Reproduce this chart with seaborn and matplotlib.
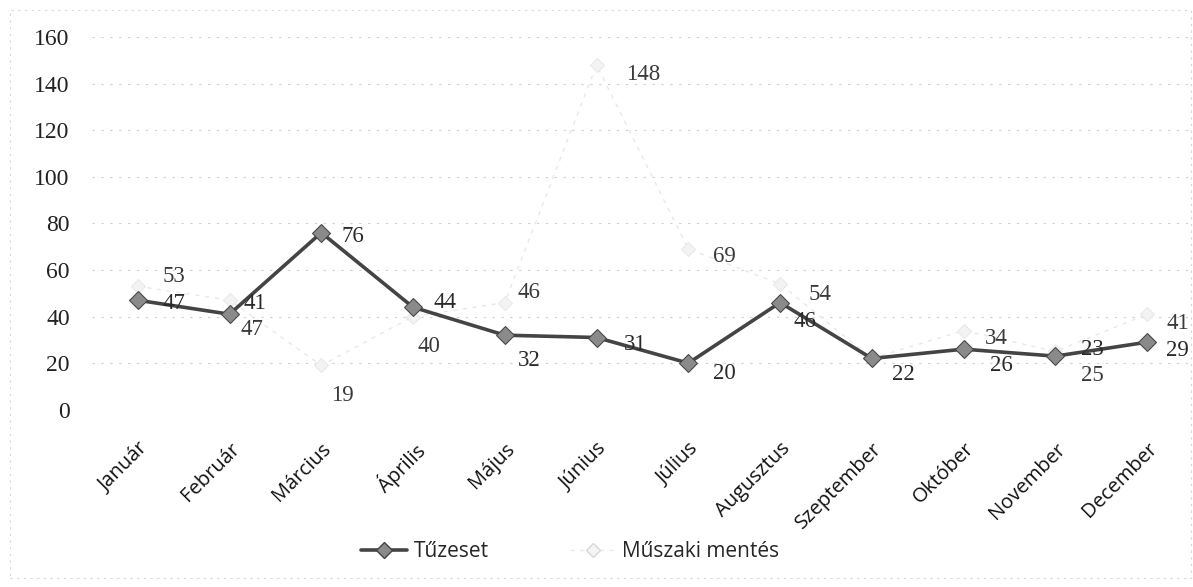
import matplotlib
matplotlib.use("Agg")
import matplotlib.pyplot as plt
from matplotlib.lines import Line2D
from matplotlib.patches import Rectangle
import seaborn as sns
import pandas as pd

# Monthly counts
months = ["Január", "Február", "Március", "Április", "Május", "Június",
          "Július", "Augusztus", "Szeptember", "Október", "November", "December"]
tuzeset = [47, 41, 76, 44, 32, 31, 20, 46, 22, 26, 23, 29]
muszaki = [53, 47, 19, 40, 46, 148, 69, 54, 22, 34, 25, 41]
series_names = ["Tűzeset", "Műszaki mentés"]
y_ticks = [0, 20, 40, 60, 80, 100, 120, 140, 160]

# Label nudges in pixels (right, down); None = shares the other series' label
tuz_nudge = [(25, 3), (14, -11), (20, 4), (20, -5), (13, 25), (27, 7),
             (25, 10), (13, 19), (20, 16), (26, 16), (26, -7), (19, 8)]
mus_nudge = [(25, -10), (11, 29), (10, 30), (4, 30), (13, -10), (29, 10),
             (25, 8), (28, 11), None, (21, 8), (26, 24), (19, 9)]

df = pd.DataFrame({
    "x": list(range(len(months))) * 2,
    "ertek": tuzeset + muszaki,
    "sorozat": [series_names[0]] * len(months) + [series_names[1]] * len(months),
})

sns.set_theme(style="white")
plt.rcParams["font.family"] = ["DejaVu Sans"]

fig = plt.figure(figsize=(11.93, 5.87), dpi=100)
ax = fig.add_axes([0.077, 0.302, 0.923, 0.635])

dark = "#444444"
light = "#e8e8e8"

sns.lineplot(data=df[df.sorozat == series_names[1]], x="x", y="ertek",
             color=light, linewidth=1.0, marker="D", markersize=7,
             markerfacecolor="#f3f3f3", markeredgecolor=light,
             linestyle=(0, (3, 4)), ax=ax, legend=False)
sns.lineplot(data=df[df.sorozat == series_names[0]], x="x", y="ertek",
             color=dark, linewidth=2.6, marker="D", markersize=9,
             markerfacecolor="#8a8a8a", markeredgecolor="#444444",
             ax=ax, legend=False)

ax.set_xlim(-0.5, len(months) - 0.5)
ax.set_ylim(0, 160)
ax.set_yticks(y_ticks)
ax.set_yticklabels([str(v) for v in y_ticks], family="Liberation Serif",
                   fontsize=17, color="#222222")
ax.set_xticks(range(len(months)))
ax.set_xticklabels(months, rotation=45, ha="right", rotation_mode="anchor",
                   family="Open Sans", fontsize=14.5, color="#111111")
ax.tick_params(axis="y", pad=16, length=0)
ax.tick_params(axis="x", pad=21, length=0)
ax.set_xlabel("")
ax.set_ylabel("")

ax.grid(axis="y", color="#cfcfcf", linewidth=0.8, linestyle=(0, (2, 6)))
ax.set_axisbelow(True)
for s in ax.spines.values():
    s.set_visible(False)

# Value labels
def put_labels(values, nudges, color):
    for i, (v, n) in enumerate(zip(values, nudges)):
        if n is None:
            continue
        ax.annotate(str(v), (i, v), xytext=(n[0] * 0.72, -n[1] * 0.72),
                    textcoords="offset points", ha="left", va="center",
                    family="Liberation Serif", fontsize=16.5, color=color)

put_labels(tuzeset, tuz_nudge, "#2a2a2a")
put_labels(muszaki, mus_nudge, "#3a3a3a")

# Legend
handles = [
    Line2D([], [], color=dark, linewidth=2.6, marker="D", markersize=8,
           markerfacecolor="#8a8a8a", markeredgecolor="#444444"),
    Line2D([], [], color=light, linewidth=1.0, linestyle=(0, (3, 4)),
           marker="D", markersize=7, markerfacecolor="#f3f3f3",
           markeredgecolor="#d8d8d8"),
]
fig.legend(handles, series_names, loc="center", ncol=2,
           bbox_to_anchor=(0.478, 0.06), frameon=False,
           prop={"family": "Open Sans", "size": 15}, handlelength=2.2,
           columnspacing=3.9, handletextpad=0.3)

# Faint chart border
fig.patches.append(Rectangle((0.008, 0.015), 0.99, 0.968, transform=fig.transFigure,
                             fill=False, edgecolor="#d6d6d6", linewidth=0.8,
                             linestyle=(0, (2, 4))))

fig.savefig("out.png", dpi=100)
